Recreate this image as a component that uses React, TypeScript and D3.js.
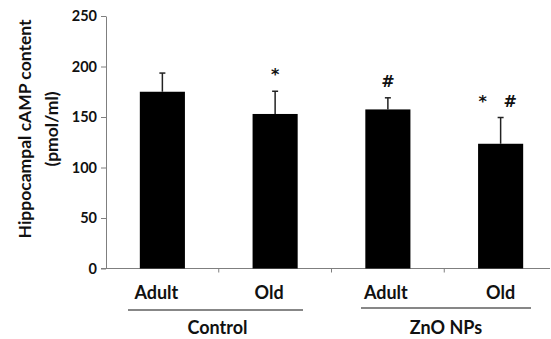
import { useRef, useEffect } from 'react';
import * as d3 from 'd3';

const groups = ['Control-Adult', 'Control-Old', 'ZnO-Adult', 'ZnO-Old'];
const barLabels = ['Adult', 'Old', 'Adult', 'Old'];
const means = [175, 153, 157.5, 123.5];
const errors = [18.5, 22.5, 11.5, 26];
const marks = ['', '*', '#', '*   #'];
const yTicks = [0, 50, 100, 150, 200, 250];
const groupNames = ['Control', 'ZnO NPs'];

const font = 'Lato, "Open Sans", "Liberation Sans", Arial, sans-serif';

const App = () => {
  const svgRef = useRef<SVGSVGElement>(null);

  useEffect(() => {
    const svg = d3.select(svgRef.current);
    svg.selectAll('*').remove();

    const y = d3.scaleLinear().domain([0, 250]).range([268.5, 16]);
    const x = d3.scaleBand<string>().domain(groups).range([106, 557]).paddingInner(0.6).paddingOuter(0.3);

    // y axis
    const yAxis = svg.append('g')
      .attr('transform', 'translate(106,0)')
      .call(d3.axisLeft(y).tickValues(yTicks).tickSize(5).tickPadding(4).tickSizeOuter(0));
    yAxis.select('.domain').attr('stroke', '#7f7f7f');
    yAxis.selectAll('.tick line').attr('stroke', '#7f7f7f');
    yAxis.selectAll('.tick text')
      .attr('font-family', font).attr('font-weight', 'bold').attr('font-size', 14.5).attr('fill', '#111');

    // x axis line + category boundary ticks
    svg.append('line')
      .attr('x1', 101).attr('x2', 550).attr('y1', y(0)).attr('y2', y(0))
      .attr('stroke', '#7f7f7f');
    const step = x.step();
    [1, 2, 3].forEach(i => {
      const bx = 106 + step * i;
      svg.append('line')
        .attr('x1', bx).attr('x2', bx).attr('y1', y(0)).attr('y2', y(0) + 4)
        .attr('stroke', '#7f7f7f');
    });

    // bars
    svg.append('g').selectAll('rect').data(groups).join('rect')
      .attr('x', d => x(d)!)
      .attr('width', x.bandwidth())
      .attr('y', (_, i) => y(means[i]))
      .attr('height', (_, i) => y(0) - y(means[i]))
      .attr('fill', '#000');

    // error bars
    const eb = svg.append('g').attr('stroke', '#222').attr('stroke-width', 1.5);
    groups.forEach((g, i) => {
      const cx = x(g)! + x.bandwidth() / 2;
      eb.append('line').attr('x1', cx).attr('x2', cx)
        .attr('y1', y(means[i])).attr('y2', y(means[i] + errors[i]));
      eb.append('line').attr('x1', cx - 3).attr('x2', cx + 3)
        .attr('y1', y(means[i] + errors[i])).attr('y2', y(means[i] + errors[i]));
    });

    // significance marks
    groups.forEach((g, i) => {
      if (!marks[i]) return;
      const cx = x(g)! + x.bandwidth() / 2;
      svg.append('text')
        .attr('x', i === 3 ? cx - 3 : cx)
        .attr('y', y(means[i] + errors[i]) - 11)
        .attr('text-anchor', 'middle')
        .attr('font-family', '"DejaVu Sans", sans-serif')
        .attr('font-weight', 'bold')
        .attr('font-size', 16)
        .attr('fill', '#111')
        .style('white-space', 'pre')
        .text(marks[i]);
    });

    // category labels
    const labelOffsets = [-6, -6, -2, 0];
    groups.forEach((g, i) => {
      const cx = x(g)! + x.bandwidth() / 2;
      svg.append('text')
        .attr('x', cx + labelOffsets[i])
        .attr('y', 299)
        .attr('text-anchor', 'middle')
        .attr('font-family', font)
        .attr('font-weight', 'bold')
        .attr('font-size', 18)
        .attr('fill', '#111')
        .text(barLabels[i]);
    });

    // group lines and names
    const groupSpans = [[128, 303], [361, 531]];
    const groupLineY = [310, 308];
    groupNames.forEach((name, i) => {
      const [a, b] = groupSpans[i];
      svg.append('line')
        .attr('x1', a).attr('x2', b).attr('y1', groupLineY[i]).attr('y2', groupLineY[i])
        .attr('stroke', '#111').attr('stroke-width', 1.2);
      svg.append('text')
        .attr('x', (a + b) / 2 + (i === 0 ? 2 : 0))
        .attr('y', 334)
        .attr('text-anchor', 'middle')
        .attr('font-family', font)
        .attr('font-weight', 'bold')
        .attr('font-size', 18)
        .attr('fill', '#111')
        .text(name);
    });

    // y title
    const title = svg.append('text')
      .attr('transform', 'translate(0,129) rotate(-90)')
      .attr('text-anchor', 'middle')
      .attr('font-family', font)
      .attr('font-weight', 'bold')
      .attr('font-size', 17.5)
      .attr('fill', '#111');
    title.append('tspan').attr('x', 0).attr('y', 31).text('Hippocampal cAMP content');
    title.append('tspan').attr('x', 0).attr('y', 58).text('(pmol/ml)');
  }, []);

  return (
    <svg ref={svgRef} width={551} height={339}
      style={{ position: 'absolute', left: 0, top: 0, background: '#fff' }} />
  );
};

export default App;
